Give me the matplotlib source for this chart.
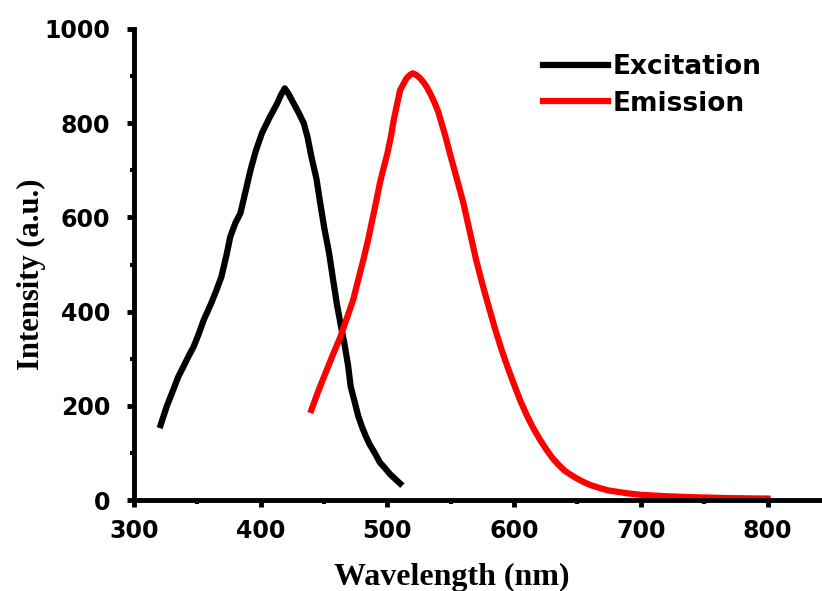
import numpy as np
import matplotlib
matplotlib.use('Agg')
import matplotlib.pyplot as plt
from matplotlib.ticker import MultipleLocator

# Excitation spectrum
ex_wl = [321, 326, 331, 335, 339, 343, 347, 351, 355, 358, 361, 365, 369, 373,
         376, 380, 384, 388, 392, 396, 401, 407, 413, 416, 419, 422, 426, 430,
         434, 437, 440, 444, 447, 450, 454, 457, 460, 463, 466, 469, 471, 474,
         477, 480, 483, 486, 490, 494, 498, 502, 506, 510]
ex_int = [159, 200, 234, 262, 283, 305, 325, 352, 382, 400, 418, 445, 474, 520,
          559, 588, 609, 655, 701, 740, 779, 812, 842, 860, 874, 862, 842, 822,
          800, 770, 729, 682, 630, 580, 524, 470, 418, 374, 333, 285, 241, 210,
          178, 155, 135, 118, 100, 80, 68, 55, 45, 35]

# Emission spectrum
em_wl = [440, 445, 450, 456, 463, 468, 473, 477, 481, 485, 488, 491, 494, 497,
         500, 503, 505, 508, 510, 513, 515, 518, 520, 523, 526, 529, 531, 534,
         537, 540, 542, 546, 550, 555, 560, 565, 570, 575, 580, 585, 590, 595,
         600, 605, 610, 615, 620, 625, 630, 635, 640, 645, 650, 655, 660, 668,
         675, 690, 700, 720, 740, 770, 800]
em_int = [191, 228, 262, 302, 347, 386, 425, 468, 510, 555, 594, 632, 672, 705,
          736, 775, 807, 845, 870, 885, 895, 903, 906, 902, 895, 885, 877, 862,
          845, 825, 807, 770, 729, 680, 630, 570, 510, 458, 410, 363, 320, 281,
          245, 210, 180, 153, 130, 109, 90, 75, 62, 53, 45, 38, 32, 25,
          20, 14, 11, 8, 6, 4, 3]

plt.rcParams['font.family'] = ['DejaVu Sans']

fig = plt.figure(figsize=(8.22, 5.91), dpi=100)
ax = fig.add_axes([134 / 822, 1 - 500 / 591, 1 - 134 / 822, 471 / 591])

ax.plot(ex_wl, ex_int, color='black', lw=4.5, label='Excitation',
        solid_joinstyle='round')
ax.plot(em_wl, em_int, color='red', lw=4.5, label='Emission',
        solid_joinstyle='round')

ax.set_xlim(300, 843)
ax.set_ylim(0, 1000)
ax.xaxis.set_major_locator(MultipleLocator(100))
ax.xaxis.set_minor_locator(MultipleLocator(50))
ax.yaxis.set_major_locator(MultipleLocator(200))
ax.yaxis.set_minor_locator(MultipleLocator(100))

for side in ['top', 'right']:
    ax.spines[side].set_visible(False)
for side in ['left', 'bottom']:
    ax.spines[side].set_linewidth(3.5)

ax.tick_params(which='major', direction='out', length=5, width=3.5,
               labelsize=17)
ax.tick_params(axis='y', which='major', pad=12)
ax.tick_params(axis='x', which='major', pad=9)
ax.tick_params(which='minor', direction='out', length=3, width=3)
for lbl in ax.get_xticklabels() + ax.get_yticklabels():
    lbl.set_fontweight('bold')

ax.set_xlabel('Wavelength (nm)', family='Liberation Serif', weight='bold',
              fontsize=23)
ax.set_ylabel('Intensity (a.u.)', family='Liberation Serif', weight='bold',
              fontsize=22)
ax.xaxis.set_label_coords(0.462, -0.134)
ax.yaxis.set_label_coords(-0.128, 0.48)

leg = ax.legend(loc='upper left', bbox_to_anchor=(543 / 822, 1 - 54 / 591),
                bbox_transform=fig.transFigure, frameon=False,
                prop={'size': 19, 'weight': 'bold'},
                handlelength=2.45, handletextpad=0.2, labelspacing=0.4,
                borderpad=0, borderaxespad=0)

fig.savefig('out.png', dpi=100)
